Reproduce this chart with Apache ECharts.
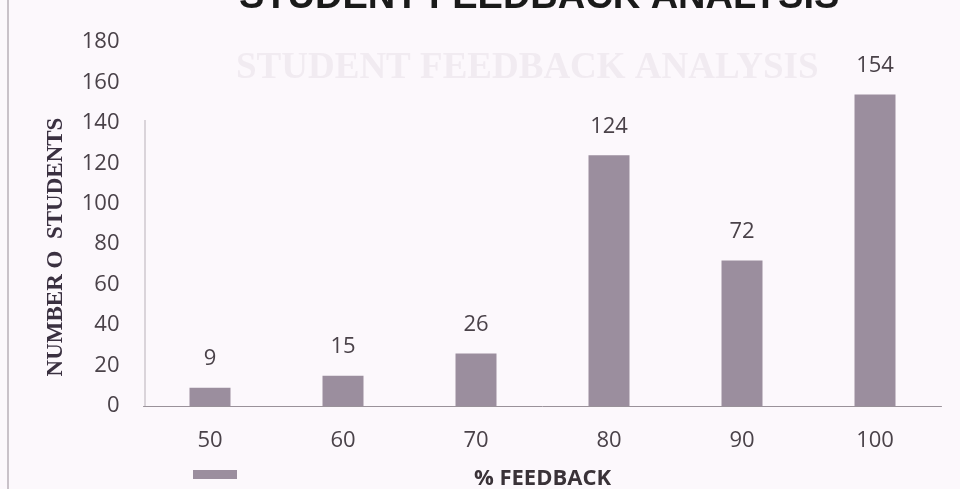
<!DOCTYPE html>
<html><head><meta charset="utf-8">
<script src="https://cdn.jsdelivr.net/npm/echarts@6/dist/echarts.min.js"></script>
<style>html,body{margin:0;padding:0;background:#fcf8fc;}#c{width:960px;height:489px;}</style>
</head><body><div id="c"></div>
<script>
const categories = ['50', '60', '70', '80', '90', '100'];
const students = [9, 15, 26, 124, 72, 154];
const yTicks = { min: 0, max: 180, interval: 20 };
const titleText = 'STUDENT FEEDBACK ANALYSIS';
const yName = 'NUMBER O  STUDENTS';
const xName = '% FEEDBACK';

const chart = echarts.init(document.getElementById('c'));
chart.setOption({
  backgroundColor: '#fcf8fc',
  animation: false,
  title: {
    text: titleText, left: 234, top: -26,
    textStyle: { fontFamily: 'Liberation Sans', fontWeight: 'bold', fontSize: 38, color: '#1a1a1a' }
  },
  legend: {
    left: 188, top: 465, itemWidth: 44, itemHeight: 9, icon: 'rect',
    formatter: () => '', data: ['Students']
  },
  grid: { left: 143.5, right: 18.5, top: 42, bottom: 83, outerBoundsMode: 'none', containLabel: false },
  xAxis: {
    type: 'category', data: categories,
    name: xName, nameLocation: 'middle', nameGap: 62,
    nameTextStyle: { fontFamily: 'Open Sans', fontWeight: 'bold', fontSize: 22, color: '#3a3238' },
    axisLine: { lineStyle: { color: '#9a929a', width: 1 } },
    axisTick: { show: false },
    axisLabel: { fontFamily: 'Open Sans', fontSize: 22, color: '#4a4249', margin: 24 }
  },
  yAxis: {
    type: 'value', min: yTicks.min, max: yTicks.max, interval: yTicks.interval,
    axisLine: { show: false },
    axisTick: { show: false },
    splitLine: { show: false },
    axisLabel: { fontFamily: 'Open Sans', fontSize: 22, color: '#4a4249', margin: 24 }
  },
  series: [{
    name: 'Students', type: 'bar', data: students, barWidth: 41,
    itemStyle: { color: '#9b8e9e' },
    label: { show: true, position: 'top', distance: 18, fontFamily: 'Open Sans', fontSize: 22, color: '#4a4249' }
  }],
  graphic: [
    { type: 'text', left: 236, top: 50, z: -1, style: { text: titleText, fontFamily: 'Liberation Serif', fontWeight: 'bold', fontSize: 37, fill: '#f1ebf1' } },
    { type: 'text', x: 56, y: 247, rotation: Math.PI / 2, style: { text: yName, fontFamily: 'Liberation Serif', fontWeight: 'bold', fontSize: 23, fill: '#3a3040', align: 'center', verticalAlign: 'middle' } },
    { type: 'line', shape: { x1: 8, y1: 0, x2: 8, y2: 489 }, style: { stroke: '#b8b0b8', lineWidth: 1.5 } },
    { type: 'line', shape: { x1: 145, y1: 120, x2: 145, y2: 406 }, style: { stroke: '#b8b0b8', lineWidth: 1 } }
  ]
});
</script></body></html>
